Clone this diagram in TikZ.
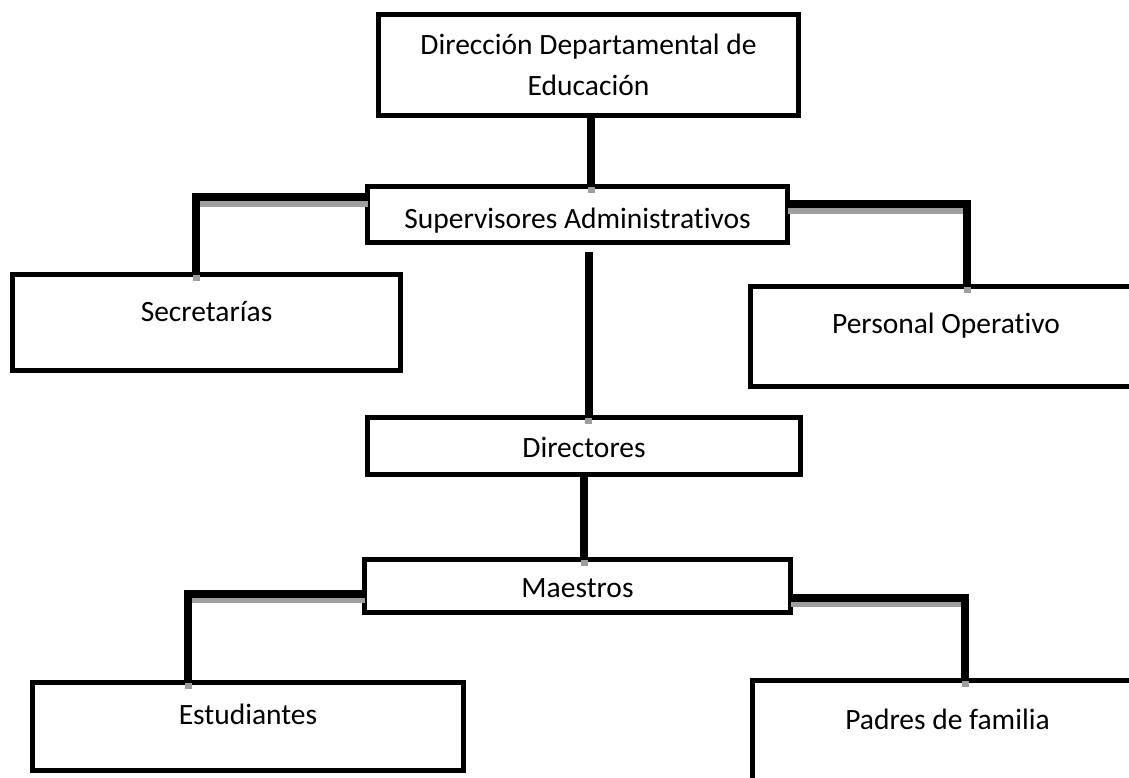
\documentclass[tikz,border=0pt]{standalone}
\usepackage{fontspec}
\setmainfont{Carlito}[RawFeature=-liga]
\begin{document}
\begin{tikzpicture}[x=1pt,y=-1pt,
  box/.style={draw=black, line width=5pt, inner sep=0pt, outer sep=0pt,
    anchor=north west, fill=white, align=center,
    font=\fontsize{29.5}{41}\selectfont},
  conn/.style={draw=black, line width=8pt},
  connshadow/.style={draw=black!38, line width=7pt}]
\useasboundingbox (0,0) rectangle (1129,777);
\fill[white] (0,0) rectangle (1129,777);
\clip (0,0) rectangle (1129,777);

% boxes
\node[box, minimum width=420pt, minimum height=101pt] (top) at (378.5,14.5)
  {Dirección Departamental de\\Educación};
\node[box, minimum width=420pt, minimum height=56pt, text height=27pt, text depth=0pt] (sup) at (367.5,186.5)
  {Supervisores Administrativos};
\node[box, minimum width=388pt, minimum height=96pt, text height=0pt, text depth=3pt] (sec) at (12.5,274.5)
  {Secretarías};
\node[box, minimum width=391pt, minimum height=100pt, text height=0pt, text depth=7pt] (pers) at (750.5,286.5)
  {Personal Operativo};
\node[box, minimum width=433pt, minimum height=57pt, text height=22pt, text depth=0pt] (dir) at (367.5,417.5)
  {Directores};
\node[box, minimum width=426pt, minimum height=53pt, text height=22pt, text depth=0pt] (mae) at (364.5,559.5)
  {Maestros};
\node[box, minimum width=431pt, minimum height=88pt, text height=0pt, text depth=4pt] (est) at (32.5,682.5)
  {Estudiantes};
\node[box, minimum width=390pt, minimum height=100pt, text height=0pt, text depth=3pt] (pad) at (752.5,680.5)
  {Padres de familia};

% connector shadows
\begin{scope}[transform canvas={yshift=-6pt}]
  \draw[connshadow] ([xshift=2.5pt]top.south) -- ([xshift=2.5pt]top.south |- sup.north);
  \draw[connshadow] ([yshift=17.5pt]sup.west) -| ([xshift=-10.5pt]sec.north);
  \draw[connshadow] ([yshift=10.5pt]sup.east) -| ([xshift=216.5pt]pers.north west);
  \draw[connshadow] ([xshift=11pt,yshift=-9.5pt]sup.south) -- ([xshift=11pt]sup.south |- dir.north);
  \draw[connshadow] (dir.south) -- (dir.south |- mae.north);
  \draw[connshadow] ([yshift=-7.5pt]mae.west) -| ([xshift=-60pt]est.north);
  \draw[connshadow] ([yshift=-11.5pt]mae.east) -| ([xshift=212.5pt]pad.north west);
\end{scope}

% connectors
\draw[conn] ([xshift=2.5pt]top.south) -- ([xshift=2.5pt]top.south |- sup.north);
\draw[conn] ([yshift=17.5pt]sup.west) -| ([xshift=-10.5pt]sec.north);
\draw[conn] ([yshift=10.5pt]sup.east) -| ([xshift=216.5pt]pers.north west);
\draw[conn] ([xshift=11pt,yshift=-9.5pt]sup.south) -- ([xshift=11pt]sup.south |- dir.north);
\draw[conn] (dir.south) -- (dir.south |- mae.north);
\draw[conn] ([yshift=-7.5pt]mae.west) -| ([xshift=-60pt]est.north);
\draw[conn] ([yshift=-11.5pt]mae.east) -| ([xshift=212.5pt]pad.north west);
\end{tikzpicture}
\end{document}
